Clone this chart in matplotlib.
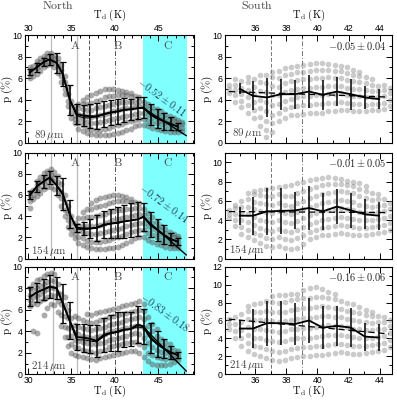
import matplotlib
matplotlib.use("Agg")
import matplotlib.pyplot as plt
from matplotlib.ticker import MultipleLocator

plt.rcParams["font.family"] = ["Liberation Sans", "DejaVu Sans"]
plt.rcParams["mathtext.fontset"] = "cm"

# ---------------- data ----------------
wavelengths = ["89", "154", "214"]

# North: binned means (thick line), medians (thin line), error bars
t_north = [30.2, 31.0, 31.8, 32.5, 33.3, 34.0, 34.8, 35.6, 36.4, 37.1, 37.9, 38.7,
           39.5, 40.3, 41.0, 41.8, 42.6, 43.3, 44.1, 44.9, 45.6, 46.4, 47.2]
p_north_89 = [6.55, 7.0, 7.5, 7.75, 7.4, 6.4, 4.0, 2.65, 2.5, 2.45, 2.45, 2.65,
              2.8, 2.9, 3.05, 3.1, 3.2, 3.25, 2.6, 2.25, 2.0, 1.75, 1.5]
med_north_89 = [6.5, 7.0, 7.5, 7.7, 7.4, 6.3, 3.9, 2.5, 2.3, 2.3, 2.4, 2.6,
                2.8, 2.9, 3.0, 3.1, 3.2, 3.2, 2.6, 2.2, 2.0, 1.7, 1.5]
e_north_89 = [0.3, 0.4, 0.4, 0.5, 0.9, 1.1, 1.4, 0.9, 1.0, 1.1, 1.2, 1.2,
              1.2, 1.2, 1.1, 1.0, 1.0, 1.0, 1.0, 0.9, 0.8, 0.6, 0.3]
p_north_154 = [6.0, 6.8, 7.3, 7.65, 6.9, 6.1, 4.2, 2.9, 2.85, 2.85, 2.9, 3.2,
               3.3, 3.4, 3.5, 3.6, 3.7, 3.95, 3.2, 2.7, 2.25, 1.85, 1.6]
med_north_154 = [6.0, 6.8, 7.3, 7.6, 6.9, 6.0, 4.1, 2.8, 2.7, 2.8, 2.9, 3.1,
                 3.3, 3.3, 3.5, 3.6, 3.7, 3.9, 3.1, 2.7, 2.2, 1.8, 1.6]
e_north_154 = [0.4, 0.5, 0.6, 0.6, 0.9, 1.5, 1.3, 0.4, 0.6, 0.9, 1.2, 1.3,
               1.4, 1.5, 1.6, 1.6, 1.6, 1.3, 1.2, 1.0, 0.9, 0.6, 0.3]
p_north_214 = [7.2, 7.6, 7.9, 8.15, 8.0, 6.6, 5.0, 3.45, 3.4, 3.3, 3.1, 3.65,
               3.85, 3.95, 4.15, 4.2, 4.6, 4.45, 3.4, 2.8, 2.4, 2.05, 1.8]
med_north_214 = [7.2, 7.6, 7.9, 8.1, 8.0, 6.5, 4.9, 3.2, 3.2, 3.1, 3.0, 3.5,
                 3.8, 3.9, 4.1, 4.2, 4.4, 4.3, 3.3, 2.8, 2.4, 2.0, 1.8]
e_north_214 = [0.9, 0.9, 1.0, 1.1, 1.0, 1.8, 1.7, 1.2, 1.3, 1.3, 1.5, 1.6,
               1.7, 1.8, 1.6, 1.6, 1.7, 1.6, 1.4, 1.2, 0.9, 0.6, 0.3]

# North: slope fits in region C
slope_north = [-0.52, -0.72, -0.83]
slope_err_north = [0.11, 0.14, 0.18]
fit_start_north = [3.25, 3.95, 4.45]
peak_line_north = [32.6, 32.6, 32.9]

# South: binned means and error bars
t_south = [35.0, 35.85, 36.75, 37.65, 38.55, 39.45, 40.35, 41.25, 42.15, 43.05, 43.95]
p_south_89 = [5.0, 4.35, 4.2, 4.5, 4.5, 4.75, 4.45, 4.75, 4.5, 4.2, 4.05]
e_south_89 = [0.5, 1.35, 1.85, 1.45, 1.35, 1.55, 1.4, 1.35, 1.45, 1.1, 0.9]
p_south_154 = [4.45, 4.45, 4.9, 4.95, 5.0, 5.25, 4.9, 5.4, 5.0, 4.6, 4.45]
e_south_154 = [0.95, 1.95, 2.4, 2.35, 1.95, 2.3, 1.95, 1.8, 1.85, 1.55, 1.45]
p_south_214 = [5.1, 5.1, 5.7, 5.7, 5.6, 6.0, 5.2, 5.4, 5.2, 4.2, 4.1]
e_south_214 = [1.0, 2.15, 2.5, 2.45, 2.35, 2.5, 2.4, 2.25, 2.2, 1.55, 1.5]

slope_south = [-0.05, -0.01, -0.16]
slope_err_south = [0.04, 0.05, 0.06]
fit_start_south = [4.75, 4.88, 6.15]
ymax_south = [10, 11, 12]

# pixel clouds: (T_d, [p values]) columns
cloud_n89 = [
    (30.2, [6.0, 6.4, 6.8, 7.0]), (30.6, [6.2, 6.7, 7.1]), (31.0, [6.4, 6.9, 7.3, 7.6]),
    (31.4, [6.7, 7.1, 7.5, 7.9]), (31.8, [7.0, 7.4, 7.8, 8.1]), (32.2, [7.2, 7.6, 8.0, 8.3]),
    (32.6, [7.3, 7.7, 8.1, 8.3]), (33.0, [7.0, 7.5, 7.9, 8.1]), (33.4, [6.5, 7.0, 7.5, 7.9]),
    (33.8, [5.6, 6.2, 6.8, 7.2]), (34.2, [4.5, 5.0, 5.6, 6.2]), (34.6, [3.4, 3.9, 4.5, 5.2]),
    (35.0, [2.3, 2.8, 3.3, 3.9]), (35.4, [1.8, 2.2, 2.6, 3.0, 3.4]),
    (35.8, [1.3, 1.8, 2.3, 2.7, 3.2, 3.6]), (36.3, [1.1, 1.6, 2.1, 2.6, 3.1, 3.6, 4.0]),
    (36.8, [0.9, 1.4, 1.9, 2.5, 3.0, 3.6, 4.2]), (37.3, [0.8, 1.3, 1.8, 2.4, 3.0, 3.7, 4.4]),
    (37.8, [0.7, 1.2, 1.8, 2.5, 3.2, 3.9, 4.6]), (38.3, [0.7, 1.2, 1.9, 2.6, 3.3, 4.0, 4.8]),
    (38.8, [0.7, 1.3, 2.0, 2.7, 3.4, 4.2, 5.0]), (39.3, [0.7, 1.4, 2.1, 2.8, 3.5, 4.3, 5.0]),
    (39.8, [0.8, 1.5, 2.2, 2.9, 3.6, 4.3, 5.0]), (40.3, [0.9, 1.6, 2.3, 3.0, 3.7, 4.4, 4.9]),
    (40.8, [1.0, 1.7, 2.4, 3.1, 3.8, 4.4, 4.8]), (41.3, [1.2, 1.9, 2.5, 3.2, 3.8, 4.4, 4.7]),
    (41.8, [1.3, 2.0, 2.6, 3.2, 3.8, 4.3, 4.6]), (42.3, [1.5, 2.1, 2.7, 3.3, 3.8, 4.3]),
    (42.8, [1.6, 2.2, 2.8, 3.4, 3.9, 4.2]), (43.3, [1.6, 2.2, 2.8, 3.3, 3.8]),
    (43.8, [1.5, 2.0, 2.6, 3.1, 3.6]), (44.3, [1.4, 1.9, 2.4, 2.9, 3.3]),
    (44.8, [1.3, 1.8, 2.3, 2.7, 3.1]), (45.3, [1.2, 1.7, 2.1, 2.5, 2.9]),
    (45.8, [1.1, 1.5, 1.9, 2.3, 2.7]), (46.3, [1.0, 1.4, 1.8, 2.2, 2.5]),
    (46.8, [1.0, 1.3, 1.7, 2.1, 2.3]), (47.3, [1.0, 1.3, 1.6, 1.9, 2.1]),
    (47.7, [1.1, 1.4, 1.7, 1.9]),
]
cloud_n154 = [
    (30.2, [4.8, 5.4, 5.9, 6.3]), (30.6, [5.6, 6.0, 6.5]), (31.0, [5.9, 6.4, 6.9, 7.3]),
    (31.4, [6.2, 6.7, 7.2, 7.7]), (31.8, [6.6, 7.1, 7.6, 8.1]), (32.2, [6.8, 7.3, 7.8, 8.3]),
    (32.6, [6.8, 7.4, 7.9, 8.5]), (33.0, [6.6, 7.2, 7.7, 8.2]), (33.4, [6.0, 6.6, 7.2, 7.8]),
    (33.8, [5.0, 5.7, 6.3, 7.0]), (34.2, [4.0, 4.6, 5.3, 6.0]), (34.6, [3.0, 3.6, 4.3, 5.0]),
    (35.0, [2.3, 2.8, 3.4, 4.0]), (35.4, [1.9, 2.4, 2.9, 3.4]),
    (35.8, [1.5, 2.0, 2.6, 3.2, 3.8]), (36.3, [1.3, 1.9, 2.5, 3.1, 3.8, 4.4]),
    (36.8, [1.1, 1.7, 2.4, 3.1, 3.9, 4.7]), (37.3, [1.0, 1.6, 2.3, 3.1, 3.9, 4.7, 5.2]),
    (37.8, [0.9, 1.6, 2.3, 3.1, 4.0, 4.9, 5.5]), (38.3, [0.9, 1.6, 2.4, 3.2, 4.1, 5.0, 5.7]),
    (38.8, [0.9, 1.7, 2.5, 3.4, 4.2, 5.1, 5.8]), (39.3, [1.0, 1.8, 2.6, 3.5, 4.4, 5.2, 5.9]),
    (39.8, [1.0, 1.9, 2.7, 3.6, 4.5, 5.3, 6.0]), (40.3, [1.1, 2.0, 2.8, 3.7, 4.6, 5.4, 6.0]),
    (40.8, [1.3, 2.1, 2.9, 3.8, 4.6, 5.4, 5.9]), (41.3, [1.5, 2.3, 3.1, 3.9, 4.7, 5.4, 5.8]),
    (41.8, [1.7, 2.5, 3.2, 4.0, 4.7, 5.3, 5.6]), (42.3, [1.9, 2.6, 3.3, 4.1, 4.8, 5.3]),
    (42.8, [2.0, 2.7, 3.4, 4.2, 4.8, 5.2]), (43.3, [2.0, 2.7, 3.4, 4.1, 4.7]),
    (43.8, [1.8, 2.4, 3.1, 3.7, 4.3]), (44.3, [1.6, 2.2, 2.8, 3.4, 3.9]),
    (44.8, [1.4, 2.0, 2.5, 3.0, 3.5]), (45.3, [1.3, 1.8, 2.3, 2.7, 3.1]),
    (45.8, [1.1, 1.6, 2.0, 2.4, 2.8]), (46.3, [1.0, 1.4, 1.8, 2.2, 2.5]),
    (46.8, [1.0, 1.3, 1.7, 2.0, 2.3]), (47.3, [1.0, 1.3, 1.6, 1.9, 2.1]),
]
cloud_n214 = [
    (30.2, [6.3, 6.9, 7.4, 8.0]), (30.6, [4.0, 6.6, 7.2, 7.8, 8.4]),
    (31.0, [3.8, 6.5, 7.3, 8.0, 8.8]), (31.4, [6.8, 7.5, 8.2, 8.9]),
    (31.8, [5.5, 7.0, 7.7, 8.4, 9.1]), (32.2, [6.2, 7.2, 7.9, 8.6, 9.3]),
    (32.6, [6.5, 7.4, 8.1, 8.8, 9.4]), (33.0, [6.4, 7.3, 8.0, 8.7, 9.3]),
    (33.4, [5.8, 6.8, 7.6, 8.4]), (33.8, [4.5, 5.5, 6.5, 7.5]),
    (34.2, [3.5, 4.4, 5.4, 6.4, 7.2]), (34.6, [2.6, 3.5, 4.3, 5.2, 6.0]),
    (35.0, [2.0, 2.8, 3.6, 4.4, 5.2]), (35.4, [1.8, 2.5, 3.2, 3.9, 4.6, 5.4]),
    (35.8, [1.7, 2.4, 3.1, 3.7, 4.4, 5.2]), (36.3, [1.6, 2.3, 3.0, 3.6, 4.3, 5.0]),
    (36.8, [1.5, 2.2, 2.9, 3.5, 4.2, 4.9, 5.6]), (37.3, [1.4, 2.1, 2.8, 3.4, 4.1, 4.8, 5.5]),
    (37.8, [1.3, 2.0, 2.8, 3.5, 4.2, 4.9, 5.7]), (38.3, [1.5, 2.2, 2.9, 3.6, 4.3, 5.0, 5.8]),
    (38.8, [1.6, 2.3, 3.0, 3.7, 4.4, 5.1, 5.9]), (39.3, [1.7, 2.5, 3.2, 3.9, 4.6, 5.3, 6.0]),
    (39.8, [1.8, 2.6, 3.3, 4.0, 4.7, 5.4, 6.1]), (40.3, [1.9, 2.7, 3.4, 4.1, 4.8, 5.5, 6.2]),
    (40.8, [2.0, 2.8, 3.5, 4.2, 4.9, 5.6, 6.3]), (41.3, [2.1, 2.9, 3.6, 4.3, 5.0, 5.7, 6.4]),
    (41.8, [2.2, 3.0, 3.7, 4.4, 5.1, 5.8, 6.5]), (42.3, [2.2, 3.0, 3.8, 4.5, 5.2, 5.9, 6.6]),
    (42.8, [2.0, 2.8, 3.7, 4.5, 5.3, 6.0, 6.8]), (43.3, [1.6, 2.5, 3.4, 4.3, 5.1, 5.9, 6.5]),
    (43.8, [1.2, 2.0, 2.9, 3.7, 4.5, 5.3]), (44.3, [1.0, 1.8, 2.5, 3.3, 4.0, 4.7]),
    (44.8, [0.9, 1.6, 2.3, 3.0, 3.6, 4.2]), (45.3, [0.9, 1.5, 2.1, 2.7, 3.3]),
    (45.8, [0.9, 1.4, 2.0, 2.5, 3.0]), (46.3, [1.0, 1.5, 1.9, 2.4, 2.8]),
    (46.8, [1.1, 1.5, 1.9, 2.3]), (47.3, [1.3, 1.6, 1.9, 2.2]),
]
cloud_s89 = [
    (34.3, [4.6, 5.0, 5.4]), (34.7, [3.8, 4.4, 4.9, 5.4, 5.9]), (35.1, [3.3, 3.9, 4.5, 5.1, 5.7]),
    (35.5, [2.8, 3.5, 4.2, 4.9, 5.6, 6.1]), (35.9, [2.3, 3.0, 3.8, 4.5, 5.2, 5.9]),
    (36.3, [1.5, 2.4, 3.2, 4.0, 4.8, 5.6, 6.3]), (36.7, [0.5, 1.2, 2.0, 2.9, 3.8, 4.7, 5.5, 6.3]),
    (37.1, [1.0, 1.8, 2.6, 3.5, 4.4, 5.3, 6.1, 6.6]), (37.5, [2.0, 2.8, 3.6, 4.4, 5.2, 6.0, 6.7]),
    (37.9, [2.3, 3.1, 3.9, 4.7, 5.5, 6.3, 6.9]), (38.3, [2.6, 3.3, 4.1, 4.9, 5.7, 6.4, 7.0]),
    (38.7, [2.6, 3.4, 4.2, 5.0, 5.8, 6.6, 7.1]), (39.1, [2.7, 3.5, 4.3, 5.1, 5.9, 6.6, 7.2]),
    (39.5, [2.8, 3.5, 4.3, 5.1, 5.9, 6.7, 7.3]), (39.9, [2.8, 3.6, 4.4, 5.2, 6.0, 6.8, 7.4]),
    (40.3, [2.8, 3.6, 4.4, 5.2, 6.0, 6.8, 7.4]), (40.7, [2.9, 3.7, 4.5, 5.3, 6.1, 6.8, 7.3]),
    (41.1, [2.9, 3.7, 4.5, 5.3, 6.0, 6.7, 7.2]), (41.5, [3.0, 3.8, 4.6, 5.3, 6.0, 6.7, 7.1]),
    (41.9, [3.0, 3.7, 4.4, 5.1, 5.8, 6.5, 7.0]), (42.3, [2.9, 3.6, 4.3, 5.0, 5.7, 6.3, 6.8]),
    (42.7, [2.9, 3.6, 4.3, 5.0, 5.6, 6.2, 6.6]), (43.1, [2.9, 3.5, 4.2, 4.9, 5.5, 6.1]),
    (43.5, [3.0, 3.6, 4.2, 4.8, 5.4, 5.9]), (43.9, [3.0, 3.6, 4.2, 4.8, 5.3]),
    (44.3, [3.1, 3.7, 4.3, 4.9, 5.4]), (44.7, [3.4, 4.0, 4.6, 5.1]),
]
cloud_s154 = [
    (34.3, [4.2, 4.6, 5.0]), (34.7, [3.4, 4.0, 4.6, 5.2, 5.6]),
    (35.1, [2.6, 3.3, 4.0, 4.7, 5.4, 6.0]), (35.5, [2.2, 3.0, 3.8, 4.6, 5.4, 6.2, 6.8]),
    (35.9, [1.9, 2.7, 3.5, 4.3, 5.1, 5.9, 6.7, 7.0]), (36.3, [1.6, 2.4, 3.2, 4.0, 4.9, 5.8, 6.6, 7.1]),
    (36.7, [1.3, 2.1, 3.0, 3.9, 4.8, 5.7, 6.5, 7.2]), (37.1, [1.2, 2.0, 2.9, 3.8, 4.7, 5.6, 6.5, 7.3]),
    (37.5, [1.3, 2.2, 3.1, 4.0, 4.9, 5.8, 6.7, 7.4]), (37.9, [1.1, 2.0, 2.9, 3.8, 4.7, 5.6, 6.5, 7.5]),
    (38.3, [1.0, 1.9, 2.8, 3.7, 4.6, 5.5, 6.5, 7.6]), (38.7, [1.1, 2.1, 3.0, 3.9, 4.8, 5.8, 6.8, 7.8]),
    (39.1, [1.5, 2.4, 3.3, 4.2, 5.1, 6.0, 7.0, 8.0]), (39.5, [2.0, 2.8, 3.6, 4.5, 5.4, 6.3, 7.2, 8.2]),
    (39.9, [2.2, 3.0, 3.8, 4.7, 5.6, 6.5, 7.4, 8.3]), (40.3, [2.4, 3.2, 4.0, 4.9, 5.8, 6.7, 7.6, 8.4]),
    (40.7, [2.5, 3.3, 4.1, 5.0, 5.9, 6.8, 7.7, 8.5]), (41.1, [2.6, 3.4, 4.2, 5.1, 6.0, 6.9, 7.7, 8.4]),
    (41.5, [2.7, 3.5, 4.3, 5.2, 6.1, 7.0, 7.7, 8.3]), (41.9, [2.6, 3.4, 4.2, 5.1, 6.0, 6.9, 7.6, 8.1]),
    (42.3, [2.5, 3.3, 4.1, 5.0, 5.9, 6.8, 7.5, 8.0]), (42.7, [2.5, 3.2, 4.0, 4.8, 5.6, 6.5, 7.2, 7.8]),
    (43.1, [2.5, 3.2, 4.0, 4.7, 5.5, 6.3, 7.0, 7.5]), (43.5, [2.6, 3.3, 4.0, 4.7, 5.4, 6.1, 6.8]),
    (43.9, [2.7, 3.4, 4.1, 4.8, 5.5, 6.2, 6.7]), (44.3, [2.8, 3.5, 4.2, 4.9, 5.6, 6.2]),
    (44.7, [3.0, 3.7, 4.4, 5.1, 5.8]),
]
cloud_s214 = [
    (34.3, [5.0, 5.6, 6.2]), (34.7, [4.0, 4.8, 5.6, 6.4]), (35.1, [3.2, 4.0, 4.9, 5.8, 6.7]),
    (35.5, [2.6, 3.5, 4.4, 5.3, 6.2, 7.1, 7.6]), (35.9, [2.3, 3.2, 4.1, 5.1, 6.1, 7.0, 7.8]),
    (36.3, [2.0, 3.0, 4.0, 5.0, 6.0, 7.0, 8.0]), (36.7, [1.8, 2.8, 3.8, 4.9, 6.0, 7.1, 8.2]),
    (37.1, [1.6, 2.6, 3.7, 4.8, 5.9, 7.0, 8.1, 8.7]), (37.5, [1.5, 2.5, 3.6, 4.7, 5.8, 6.9, 8.0, 8.8]),
    (37.9, [1.6, 2.6, 3.7, 4.8, 5.9, 7.0, 8.1, 8.8]), (38.3, [1.8, 2.8, 3.9, 5.0, 6.1, 7.2, 8.3, 8.9]),
    (38.7, [1.9, 2.9, 4.0, 5.1, 6.2, 7.3, 8.4, 9.0]), (39.1, [2.0, 3.0, 4.1, 5.2, 6.3, 7.4, 8.5, 9.4]),
    (39.5, [2.0, 3.0, 4.1, 5.2, 6.3, 7.4, 8.5, 9.6]), (39.9, [2.1, 3.1, 4.2, 5.3, 6.4, 7.5, 8.6, 9.7]),
    (40.3, [2.2, 3.2, 4.3, 5.4, 6.5, 7.6, 8.6, 9.5]), (40.7, [2.3, 3.3, 4.4, 5.5, 6.5, 7.5, 8.5, 9.2]),
    (41.1, [2.4, 3.4, 4.4, 5.4, 6.4, 7.4, 8.4, 8.9]), (41.5, [2.5, 3.4, 4.4, 5.4, 6.4, 7.3, 8.2]),
    (41.9, [2.4, 3.3, 4.3, 5.3, 6.2, 7.1, 8.0]), (42.3, [2.3, 3.2, 4.2, 5.1, 6.0, 6.9, 7.8]),
    (42.7, [2.3, 3.2, 4.1, 5.0, 5.9, 6.8, 7.5]), (43.1, [2.4, 3.2, 4.0, 4.9, 5.8, 6.6, 7.2]),
    (43.5, [2.5, 3.3, 4.1, 4.9, 5.7, 6.5, 7.0]), (43.9, [2.6, 3.4, 4.2, 5.0, 5.8, 6.5]),
    (44.3, [2.7, 3.5, 4.3, 5.1, 5.8, 6.4]), (44.7, [3.0, 3.8, 4.6, 5.4, 6.0]),
]

north = [
    (cloud_n89, p_north_89, med_north_89, e_north_89),
    (cloud_n154, p_north_154, med_north_154, e_north_154),
    (cloud_n214, p_north_214, med_north_214, e_north_214),
]
south = [
    (cloud_s89, p_south_89, e_south_89),
    (cloud_s154, p_south_154, e_south_154),
    (cloud_s214, p_south_214, e_south_214),
]


def unpack(cols):
    xs, ys = [], []
    for t, ps in cols:
        xs += [t] * len(ps)
        ys += ps
    return xs, ys


def style_axes(ax, xmaj, xmin, ymaj, row):
    ax.xaxis.set_major_locator(MultipleLocator(xmaj))
    ax.xaxis.set_minor_locator(MultipleLocator(xmin))
    ax.yaxis.set_major_locator(MultipleLocator(ymaj))
    ax.yaxis.set_minor_locator(MultipleLocator(1))
    ax.tick_params(which="both", direction="in", top=True, right=True,
                   labelsize=6.3, width=0.7, pad=2)
    ax.tick_params(which="major", length=4)
    ax.tick_params(which="minor", length=2)
    for s in ax.spines.values():
        s.set_linewidth(0.8)
    ax.set_ylabel(r"$\mathrm{p\ (\%)}$", fontsize=8)
    ax.yaxis.set_label_coords(-0.062, 0.5)
    if row == 0:
        ax.xaxis.set_label_position("top")
        ax.tick_params(axis="x", labeltop=True, labelbottom=False, pad=1.5, labelsize=6.2)
        ax.set_xlabel(r"$\mathrm{T_d\ (K)}$", fontsize=7.6)
        ax.xaxis.set_label_coords(0.5, 1.16)
    elif row == 2:
        ax.tick_params(axis="x", pad=1, labelsize=6.2)
        ax.set_xlabel(r"$\mathrm{T_d\ (K)}$", fontsize=7.6)
        ax.xaxis.set_label_coords(0.5, -0.09)
    else:
        ax.tick_params(labelbottom=False)


fig = plt.figure(figsize=(3.97, 4.0), dpi=100)
rows = [(0.6435, 0.26875), (0.3535, 0.265), (0.0643, 0.269)]
serif_gray = "#444444"

for i, (bottom, height) in enumerate(rows):
    # ---------- North ----------
    ax = fig.add_axes([0.063, bottom, 0.4257, height])
    cloud, pm, pmed, pe = north[i]
    cx, cy = unpack(cloud)
    ax.axvspan(43.2, 48.3, color="#80ffff", lw=0, zorder=0)
    ax.axvline(peak_line_north[i], color="#bbbbbb", lw=0.9, zorder=1)
    ax.axvline(35.6, color="#bbbbbb", lw=0.9, zorder=1)
    ax.axvline(37.0, color="#555555", lw=0.7, ls=(0, (4, 2)), zorder=1)
    ax.axvline(39.95, color="#555555", lw=0.7, ls=(0, (5, 2, 1, 2)), zorder=1)
    ax.scatter(cx, cy, s=18, color="0.35", alpha=0.5, lw=0, zorder=2)
    ax.plot(t_north, pmed, color="k", lw=0.7, zorder=3)
    ax.errorbar(t_north, pm, yerr=pe, color="k", lw=1.4, elinewidth=1.1,
                capsize=2.2, capthick=0.9, zorder=4)
    fx = [43.2, 48.2]
    fy = [fit_start_north[i], fit_start_north[i] + slope_north[i] * (fx[1] - fx[0])]
    ax.plot(fx, fy, color="k", lw=1.0, zorder=4)
    ax.set_xlim(29.65, 49.1)
    ax.set_ylim(0, 10)
    style_axes(ax, 5, 1, 2, i)
    for lab, xl in zip(["A", "B", "C"], [35.4, 40.3, 46.1]):
        ax.text(xl, 9.0, r"$\mathrm{%s}$" % lab, fontsize=8.5, color="#555555",
                ha="center", va="center")
    ax.text(32.4, 0.75, r"$%s\,\mu\mathrm{m}$" % wavelengths[i], fontsize=8,
            color=serif_gray, ha="center", va="center")
    ax.text([45.4, 45.7, 45.8][i], [4.2, 5.2, 5.8][i],
            r"$%.2f\pm%.2f$" % (slope_north[i], slope_err_north[i]),
            fontsize=7.5, color="#1f3f5f", rotation=-36, ha="center", va="center")

    # ---------- South ----------
    ax = fig.add_axes([0.5668, bottom, 0.4207, height])
    cloud, pm, pe = south[i]
    cx, cy = unpack(cloud)
    ax.axvline(37.0, color="#777777", lw=0.7, ls=(0, (4, 2)), zorder=1)
    ax.axvline(39.0, color="#777777", lw=0.7, ls=(0, (5, 2, 1, 2)), zorder=1)
    ax.scatter(cx, cy, s=16, color="0.55", alpha=0.45, lw=0, zorder=2)
    fx = [34.3, 44.6]
    fy = [fit_start_south[i], fit_start_south[i] + slope_south[i] * (fx[1] - fx[0])]
    ax.plot(fx, fy, color="k", lw=0.9, ls=(0, (5, 3)), zorder=3)
    ax.errorbar(t_south, pm, yerr=pe, color="k", lw=1.3, elinewidth=1.1,
                capsize=0, zorder=4)
    ax.set_xlim(34.05, 44.8)
    ax.set_ylim(0, ymax_south[i])
    style_axes(ax, 2, 1, 2, i)
    ax.text(0.965, 0.9, r"$%.2f\pm%.2f$" % (slope_south[i], slope_err_south[i]),
            transform=ax.transAxes, fontsize=7.5, color="#222222", ha="right", va="center")
    ax.text(35.5, 0.085 * ymax_south[i], r"$%s\,\mu\mathrm{m}$" % wavelengths[i],
            fontsize=8, color=serif_gray, ha="center", va="center")

fig.text(58 / 397, 1 - 6 / 400, r"$\mathrm{North}$", fontsize=8.5, color=serif_gray,
         ha="center", va="center")
fig.text(257 / 397, 1 - 6 / 400, r"$\mathrm{South}$", fontsize=8.5, color=serif_gray,
         ha="center", va="center")

fig.savefig("out.png", dpi=100)
